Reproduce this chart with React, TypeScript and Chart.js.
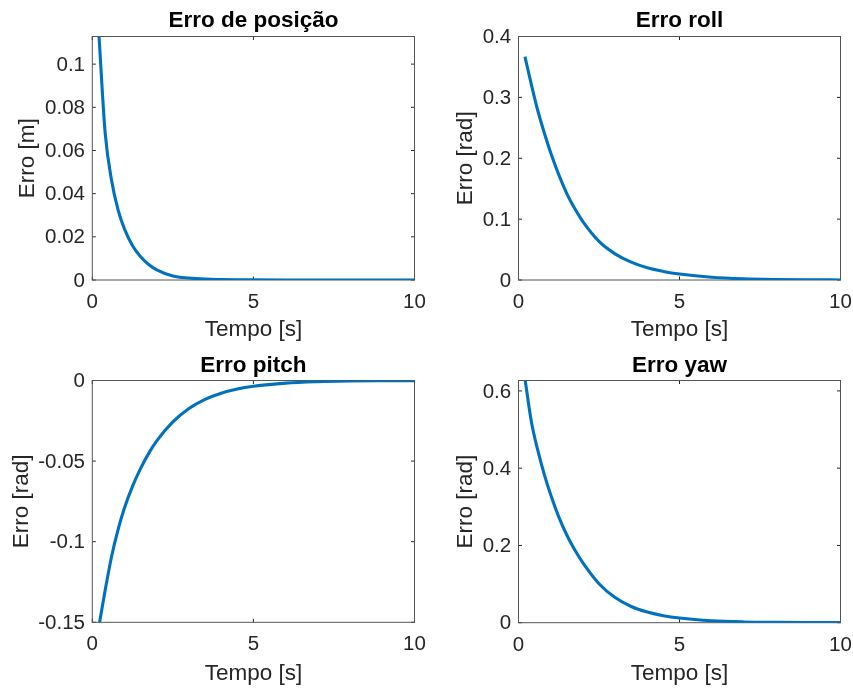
import React, { useEffect, useRef } from 'react';
import { Chart, registerables } from 'chart.js';

Chart.register(...registerables);

// ---- data ----
const tempo = [0.2, 0.4, 0.6, 0.8, 1.0, 1.25, 1.5, 1.75, 2.0, 2.5, 3.0, 3.5, 4.0, 4.5, 5.0, 6.0, 7.0, 8.0, 9.0, 10.0];
const erroPosicao = [0.115, 0.068, 0.046, 0.0325, 0.0236, 0.0159, 0.0108, 0.0072, 0.0047, 0.0019, 0.0009, 0.0004, 0.0002, 0.0001, 0.00005, 0.00001, 0, 0, 0, 0];
const erroRoll = [0.367, 0.321, 0.278, 0.242, 0.209, 0.173, 0.142, 0.117, 0.096, 0.0635, 0.043, 0.0293, 0.02, 0.0141, 0.0098, 0.0044, 0.0019, 0.0008, 0.0003, 0.0001];
const erroPitch = [-0.153, -0.13, -0.109, -0.0925, -0.079, -0.0655, -0.0545, -0.0452, -0.0375, -0.0257, -0.0174, -0.0117, -0.0079, -0.0053, -0.0036, -0.0016, -0.0007, -0.0003, -0.00013, -0.00005];
const erroYaw = [0.632, 0.52, 0.446, 0.384, 0.331, 0.274, 0.227, 0.188, 0.155, 0.101, 0.065, 0.042, 0.0275, 0.018, 0.012, 0.005, 0.002, 0.0009, 0.0004, 0.0002];

const xTicks = [0, 5, 10];
const yTicksPosicao = [0, 0.02, 0.04, 0.06, 0.08, 0.1];
const yTicksRoll = [0, 0.1, 0.2, 0.3, 0.4];
const yTicksPitch = [-0.15, -0.1, -0.05, 0];
const yTicksYaw = [0, 0.2, 0.4, 0.6];

const titles = ['Erro de posição', 'Erro roll', 'Erro pitch', 'Erro yaw'];
const yLabels = ['Erro [m]', 'Erro [rad]', 'Erro [rad]', 'Erro [rad]'];
const xLabel = 'Tempo [s]';

const FONT = '"Liberation Sans", Arial, Helvetica, sans-serif';
const LINE = '#0072BD';
const AXIS = '#262626';

const fmt = (v: number) => String(Number(v.toFixed(4)));

const boxPlugin = {
  id: 'matlabBox',
  beforeDatasetsDraw(chart: any) {
    const { ctx, chartArea } = chart;
    const { left, right, top, bottom } = chartArea;
    const xs = chart.scales.x;
    const ys = chart.scales.y;
    const len = 3.5;
    ctx.save();
    ctx.lineWidth = 1;
    ctx.strokeStyle = AXIS;
    ctx.beginPath();
    xs.ticks.forEach((t: any) => {
      const px = xs.getPixelForValue(t.value);
      ctx.moveTo(px, bottom);
      ctx.lineTo(px, bottom - len);
      ctx.moveTo(px, top);
      ctx.lineTo(px, top + len);
    });
    ys.ticks.forEach((t: any) => {
      const py = ys.getPixelForValue(t.value);
      ctx.moveTo(left, py);
      ctx.lineTo(left + len, py);
      ctx.moveTo(right, py);
      ctx.lineTo(right - len, py);
    });
    ctx.stroke();
    ctx.strokeStyle = '#555555';
    ctx.strokeRect(left, top, right - left, bottom - top);
    ctx.restore();
  },
};

type PanelCfg = {
  title: string;
  ylabel: string;
  values: number[];
  yMin: number;
  yMax: number;
  yTicks: number[];
  left: number;
  top: number;
  w: number;
  h: number;
  yW: number;
  xH: number;
  padRight: number;
  titleTop: number;
  titleBottom: number;
  yTitlePad: number;
  xTitleBottom: number;
};

const panels: PanelCfg[] = [
  { title: titles[0], ylabel: yLabels[0], values: erroPosicao, yMin: 0, yMax: 0.1128, yTicks: yTicksPosicao,
    left: 0, top: 0, w: 426, h: 345, yW: 92.3, xH: 65, padRight: 11.5, titleTop: 7.2, titleBottom: 2.3, yTitlePad: 13.8, xTitleBottom: 1.8 },
  { title: titles[1], ylabel: yLabels[1], values: erroRoll, yMin: 0, yMax: 0.4, yTicks: yTicksRoll,
    left: 426, top: 0, w: 427, h: 345, yW: 92.5, xH: 65, padRight: 12.5, titleTop: 7.2, titleBottom: 2.3, yTitlePad: 26.2, xTitleBottom: 1.8 },
  { title: titles[2], ylabel: yLabels[2], values: erroPitch, yMin: -0.15, yMax: 0, yTicks: yTicksPitch,
    left: 0, top: 345, w: 426, h: 345, yW: 92.3, xH: 67.7, padRight: 11.5, titleTop: 6.8, titleBottom: 1.7, yTitlePad: 7.8, xTitleBottom: 3 },
  { title: titles[3], ylabel: yLabels[3], values: erroYaw, yMin: 0, yMax: 0.627, yTicks: yTicksYaw,
    left: 426, top: 345, w: 427, h: 345, yW: 92.5, xH: 67.3, padRight: 12.5, titleTop: 6.8, titleBottom: 1.7, yTitlePad: 26.2, xTitleBottom: 3 },
];

function Panel({ cfg }: { cfg: PanelCfg }) {
  const ref = useRef<HTMLCanvasElement | null>(null);
  useEffect(() => {
    if (!ref.current) return;
    const tickFont = { family: FONT, size: 20.5, lineHeight: 1.2 };
    const labelFont = { family: FONT, size: 22.5, lineHeight: 1.2 };
    const chart = new Chart(ref.current, {
      type: 'line',
      data: {
        datasets: [
          {
            data: tempo.map((t, i) => ({ x: t, y: cfg.values[i] })),
            borderColor: LINE,
            backgroundColor: LINE,
            borderWidth: 3.1,
            pointRadius: 0,
            fill: false,
            cubicInterpolationMode: 'monotone',
          },
        ],
      },
      options: {
        responsive: false,
        animation: false,
        events: [],
        layout: { padding: { left: 0, right: cfg.padRight, top: 0, bottom: 0 } },
        plugins: {
          legend: { display: false },
          tooltip: { enabled: false },
          title: {
            display: true,
            text: cfg.title,
            fullSize: false,
            color: '#000000',
            font: { family: FONT, size: 22.5, weight: 'bold', lineHeight: 1.2 },
            padding: { top: cfg.titleTop, bottom: cfg.titleBottom },
          },
        },
        scales: {
          x: {
            type: 'linear',
            min: 0,
            max: 10,
            grid: { display: false, drawTicks: false, tickLength: 0 },
            border: { display: false },
            afterBuildTicks: (s: any) => {
              s.ticks = xTicks.map((v) => ({ value: v }));
            },
            afterFit: (s: any) => {
              s.height = cfg.xH;
              s.paddingLeft = 0;
              s.paddingRight = 0;
            },
            ticks: {
              color: AXIS,
              font: tickFont,
              padding: 10,
              maxRotation: 0,
              autoSkip: false,
              callback: (v: any) => fmt(Number(v)),
            },
            title: {
              display: true,
              text: xLabel,
              color: AXIS,
              font: labelFont,
              padding: { top: 0, bottom: cfg.xTitleBottom },
            },
          },
          y: {
            type: 'linear',
            min: cfg.yMin,
            max: cfg.yMax,
            grid: { display: false, drawTicks: false, tickLength: 0 },
            border: { display: false },
            afterBuildTicks: (s: any) => {
              s.ticks = cfg.yTicks.map((v) => ({ value: v }));
            },
            afterFit: (s: any) => {
              s.width = cfg.yW;
              s.paddingTop = 0;
              s.paddingBottom = 0;
            },
            ticks: {
              color: AXIS,
              font: tickFont,
              padding: 7.3,
              labelOffset: 1,
              autoSkip: false,
              callback: (v: any) => fmt(Number(v)),
            },
            title: {
              display: true,
              text: cfg.ylabel,
              color: AXIS,
              font: labelFont,
              padding: { top: cfg.yTitlePad, bottom: 0 },
            },
          },
        },
      } as any,
      plugins: [boxPlugin],
    });
    return () => chart.destroy();
  }, [cfg]);
  return (
    <canvas
      ref={ref}
      width={cfg.w}
      height={cfg.h}
      style={{ position: 'absolute', left: cfg.left, top: cfg.top, width: cfg.w, height: cfg.h, display: 'block' }}
    />
  );
}

export default function App() {
  return (
    <div style={{ position: 'absolute', left: 0, top: 0, width: 853, height: 690, background: '#ffffff' }}>
      {panels.map((p, i) => (
        <Panel key={i} cfg={p} />
      ))}
    </div>
  );
}
